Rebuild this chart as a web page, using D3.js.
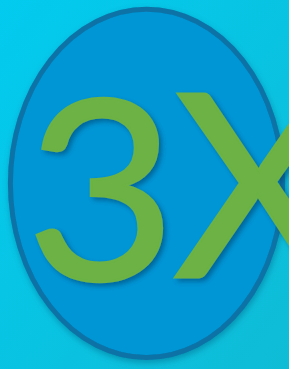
<!DOCTYPE html>
<html>
<head>
<meta charset="utf-8">
<script src="https://cdn.jsdelivr.net/npm/d3@7"></script>
<style>
  html, body { margin: 0; padding: 0; overflow: hidden; }
  svg { display: block; }
</style>
</head>
<body>
<svg id="chart" width="289" height="369"></svg>
<script>
// glyphs and the box (in a 0..1 unit space) each one is fitted into
const glyphs = ["3", "X"];
const glyphLeft = [0.125, 0.605];
const glyphRight = [0.56, 1.18];
const glyphTop = [0.263, 0.252];
const glyphBottom = [0.764, 0.751];

const bgColors = ["#02cbef", "#0fbcd6"];
const ovalFill = "#0096d6";
const ovalStroke = "#0a72a6";
const textColor = "#6cb244";

var svg = d3.select("#chart"),
    width = +svg.attr("width"),
    height = +svg.attr("height");

var x = d3.scaleLinear().domain([0, 1]).range([0, width]);
var y = d3.scaleLinear().domain([0, 1]).range([0, height]);

var defs = svg.append("defs");

var grad = defs.append("linearGradient")
    .attr("id", "bg")
    .attr("x1", "0").attr("y1", "0")
    .attr("x2", "1").attr("y2", "1");
grad.selectAll("stop")
    .data(bgColors)
    .enter().append("stop")
    .attr("offset", (d, i) => i)
    .attr("stop-color", d => d);

defs.append("filter")
    .attr("id", "ovalShadow")
    .attr("x", "-20%").attr("y", "-20%")
    .attr("width", "140%").attr("height", "140%")
    .append("feDropShadow")
    .attr("dx", 1).attr("dy", 3)
    .attr("stdDeviation", 3)
    .attr("flood-color", "#005a80")
    .attr("flood-opacity", 0.45);

defs.append("filter")
    .attr("id", "textShadow")
    .attr("x", "-20%").attr("y", "-20%")
    .attr("width", "140%").attr("height", "140%")
    .append("feDropShadow")
    .attr("dx", 3).attr("dy", 3)
    .attr("stdDeviation", 2.5)
    .attr("flood-color", "#003c6a")
    .attr("flood-opacity", 0.55);

svg.append("rect")
    .attr("width", width)
    .attr("height", height)
    .attr("fill", "url(#bg)");

svg.append("ellipse")
    .attr("cx", x(0.507))
    .attr("cy", y(0.497))
    .attr("rx", x(0.471))
    .attr("ry", y(0.472))
    .attr("fill", ovalFill)
    .attr("stroke", ovalStroke)
    .attr("stroke-width", 5)
    .attr("filter", "url(#ovalShadow)");

var g = svg.append("g").attr("filter", "url(#textShadow)");

g.selectAll("text")
    .data(glyphs)
    .enter().append("text")
    .attr("font-family", "Lato, 'Open Sans', sans-serif")
    .attr("font-weight", 400)
    .attr("font-size", 250)
    .attr("fill", textColor)
    .attr("stroke", textColor)
    .attr("stroke-width", 2.5)
    .attr("stroke-linejoin", "miter")
    .text(d => d)
    .each(function(d, i) {
        // fit the glyph outline into its box
        var ink = inkBox(this);
        var x0 = x(glyphLeft[i]), x1 = x(glyphRight[i]);
        var y0 = y(glyphTop[i]), y1 = y(glyphBottom[i]);
        var sx = (x1 - x0) / ink.w, sy = (y1 - y0) / ink.h;
        d3.select(this).attr("transform",
            "translate(" + (x0 - ink.x * sx) + "," + (y0 - ink.y * sy) + ") scale(" + sx + "," + sy + ")");
    });

// ink bounds of a glyph at the origin, measured on a canvas
function inkBox(node) {
    var c = document.createElement("canvas");
    c.width = 400; c.height = 400;
    var ctx = c.getContext("2d");
    ctx.font = "400 250px Lato, 'Open Sans', sans-serif";
    ctx.textBaseline = "alphabetic";
    var m = ctx.measureText(node.textContent);
    return {
        x: -m.actualBoundingBoxLeft,
        y: -m.actualBoundingBoxAscent,
        w: m.actualBoundingBoxLeft + m.actualBoundingBoxRight,
        h: m.actualBoundingBoxAscent + m.actualBoundingBoxDescent
    };
}
</script>
</body>
</html>
